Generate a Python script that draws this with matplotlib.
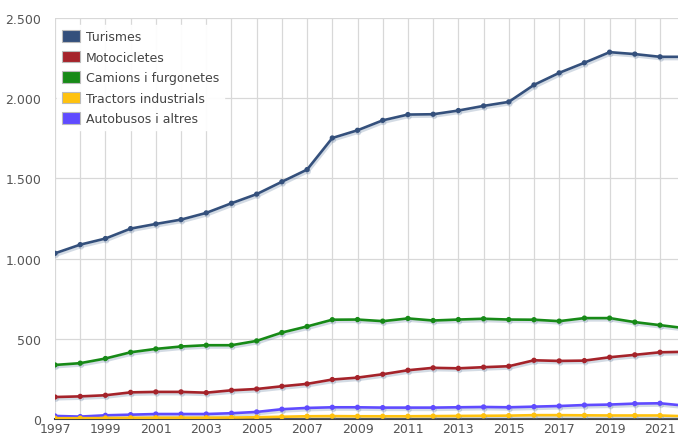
import matplotlib.pyplot as plt
import matplotlib.patheffects as pe
from matplotlib.ticker import FuncFormatter, MultipleLocator
from matplotlib.patches import Patch
import numpy as np

# dades (milers de vehicles)
anys = np.arange(1997, 2023)
turismes = [1033, 1087, 1125, 1187, 1216, 1243, 1285, 1345, 1402, 1479, 1555,
            1752, 1800, 1862, 1898, 1900, 1923, 1952, 1977, 2083, 2158, 2221,
            2287, 2275, 2258, 2258]
motocicletes = [137, 141, 148, 166, 169, 169, 164, 179, 187, 204, 219, 246,
                258, 279, 304, 319, 316, 323, 329, 366, 362, 364, 385, 400,
                416, 419]
camions = [337, 348, 377, 416, 437, 452, 460, 460, 487, 539, 577, 619, 620,
           610, 627, 614, 620, 625, 620, 619, 610, 629, 629, 604, 585, 566]
tractors = [5, 5, 6, 7, 8, 8, 8, 9, 11, 14, 17, 18, 17, 17, 17, 18, 19, 20,
            21, 24, 24, 23, 22, 22, 22, 17]
autobusos = [19, 15, 23, 27, 31, 31, 31, 36, 44, 61, 69, 73, 73, 71, 71, 71,
             73, 75, 73, 77, 81, 87, 90, 96, 98, 83]

noms = ['Turismes', 'Motocicletes', 'Camions i furgonetes',
        'Tractors industrials', 'Autobusos i altres']
colors = ['#34507c', '#a5232a', '#178a17', '#ffc20e', '#5f4bff']
series = [turismes, motocicletes, camions, tractors, autobusos]

fig = plt.figure(figsize=(6.78, 4.39), dpi=100)
ax = fig.add_axes([55 / 678, 19 / 439, 1 - 55 / 678, 401 / 439])

gris = '#555555'
# ordre de dibuix: les petites al fons
for nom, col, vals in reversed(list(zip(noms, colors, series))):
    ax.plot(anys, vals, color=col, lw=1.9, marker='o', ms=2.8, label=nom,
            zorder=3,
            path_effects=[pe.SimpleLineShadow(offset=(0.8, -1.6), shadow_color='#7088a8', alpha=0.3),
                          pe.Normal()])

ax.set_xlim(1997, 1997 + 623 / 25.21)
ax.set_ylim(0, 2500)

ax.xaxis.set_major_locator(MultipleLocator(2, offset=1))
ax.xaxis.set_minor_locator(MultipleLocator(1))
ax.yaxis.set_major_locator(MultipleLocator(500))
ax.yaxis.set_major_formatter(FuncFormatter(lambda v, p: f'{int(v):,}'.replace(',', '.')))

ax.grid(True, which='both', axis='x', color='#d8d8d8', lw=0.9)
ax.grid(True, which='major', axis='y', color='#d8d8d8', lw=0.9)
ax.set_axisbelow(True)
ax.tick_params(which='both', length=0, labelsize=9, colors=gris)
ax.tick_params(axis='x', pad=2)
ax.tick_params(axis='y', pad=10)

for s in ['top', 'right', 'left']:
    ax.spines[s].set_visible(False)
ax.spines['bottom'].set_color('#444444')
ax.spines['bottom'].set_linewidth(1.5)

# llegenda amb quadrats
handles = [Patch(facecolor=c, edgecolor='#bbbbbb', lw=0.8) for c in colors]
leg = ax.legend(handles, noms, loc='upper left', bbox_to_anchor=(0.004, 0.982),
                borderaxespad=0, fontsize=9, labelspacing=0.6,
                handlelength=1.4, handleheight=1.0, handletextpad=0.5,
                frameon=True, fancybox=False, edgecolor='white',
                facecolor='white', framealpha=0.95, labelcolor='#444444')

fig.savefig('out.png', dpi=100)
